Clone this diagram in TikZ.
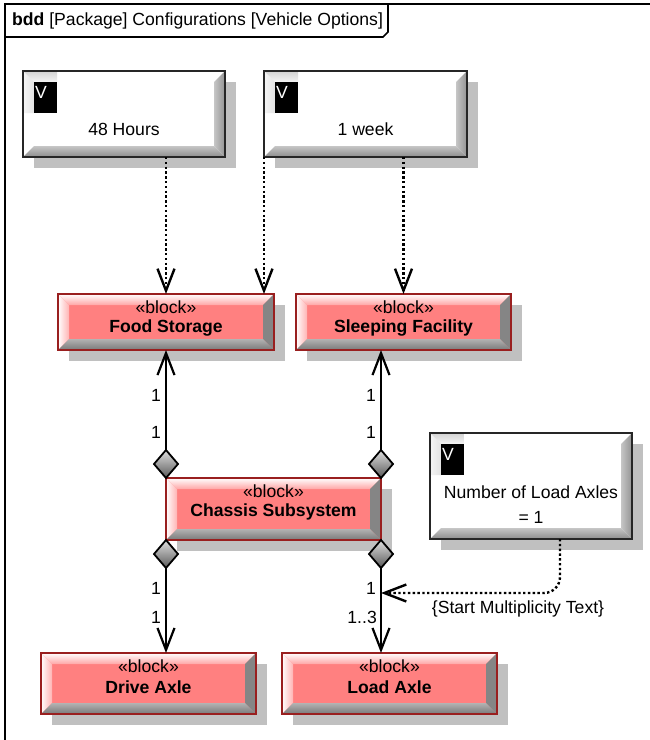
\documentclass[tikz,border=0pt]{standalone}
\usepackage{fontspec}
\setmainfont{Liberation Sans}
\usetikzlibrary{arrows.meta,calc,shapes.geometric}
\definecolor{blockfill}{HTML}{FF8080}
\definecolor{blockline}{HTML}{991F1F}
\definecolor{shadowc}{HTML}{C0C0C0}
\definecolor{bevdark}{HTML}{858585}

\tikzset{
  lbl/.style={font=\fontsize{17.6}{20}\selectfont, inner sep=0pt},
  blockframe/.style={draw=blockline, line width=1.2pt, inner sep=0pt, outer sep=0pt},
  valframe/.style={draw=black!85, line width=1.4pt, inner sep=0pt, outer sep=0pt},
  compd/.style={diamond, draw=black, line width=1.8pt, top color=gray!25, bottom color=gray!70!black,
    minimum width=24pt, minimum height=28pt, inner sep=0pt, outer sep=0pt},
  comp/.style={draw, line width=2.2pt, -{Straight Barb[length=22pt,width=17pt]}},
  dep/.style={draw, line width=2.4pt, dash pattern=on 2.4pt off 2.4pt, -{Straight Barb[length=22pt,width=17pt]}},
  framel/.style={draw=black, line width=1.6pt}
}

\newcommand{\umlblock}[6]{%
  \fill[shadowc] (#2+11,#3+11) rectangle (#4+11,#5+11);
  \fill[blockfill] (#2,#3) rectangle (#4,#5);
  \shade[top color=white, bottom color=blockfill!70!white] (#2,#3) -- (#4,#3) -- (#4-11,#3+11) -- (#2+11,#3+11) -- cycle;
  \shade[left color=white, right color=blockfill!60!white] (#2,#3) -- (#2+11,#3+11) -- (#2+11,#5-11) -- (#2,#5) -- cycle;
  \fill[bevdark] (#4,#3) -- (#4,#5) -- (#4-11,#5-11) -- (#4-11,#3+11) -- cycle;
  \shade[top color=gray!60, bottom color=gray!95!black] (#2,#5) -- (#4,#5) -- (#4-11,#5-11) -- (#2+11,#5-11) -- cycle;
  \node[blockframe, minimum width={(#4-#2)*1pt}, minimum height={(#5-#3)*1pt}] (#1) at ({(#2+#4)/2},{(#3+#5)/2}) {};
  \node[lbl] (#1-st) at ({(#2+#4)/2},#3+13) {«block»};
  \node[lbl, font=\fontsize{17.6}{20}\selectfont\bfseries] (#1-nm) at ({(#2+#4)/2},#3+34) {#6};
}

\newcommand{\valbox}[5]{%
  \fill[shadowc] (#2+11,#3+11) rectangle (#4+11,#5+11);
  \fill[white] (#2,#3) rectangle (#4,#5);
  \shade[left color=gray!45, right color=gray!85] (#4,#3) -- (#4,#5) -- (#4-11,#5-11) -- (#4-11,#3+11) -- cycle;
  \shade[top color=gray!45, bottom color=gray!90] (#2,#5) -- (#4,#5) -- (#4-11,#5-11) -- (#2+11,#5-11) -- cycle;
  \fill[gray!10] (#2,#3) rectangle (#2+34,#3+42);
  \shade[top color=gray!35, bottom color=gray!8] (#2,#3) -- (#2+34,#3) -- (#2+34,#3+11) -- (#2+11,#3+11) -- cycle;
  \shade[left color=gray!8, right color=gray!22] (#2,#3) -- (#2+11,#3+11) -- (#2+11,#3+42) -- (#2,#3+42) -- cycle;
  \fill[black] (#2+11,#3+11) rectangle (#2+34,#3+42);
  \node[lbl, text=white] (#1-v) at (#2+18,#3+21) {V};
  \node[valframe, minimum width={(#4-#2)*1pt}, minimum height={(#5-#3)*1pt}] (#1) at ({(#2+#4)/2},{(#3+#5)/2}) {};
}

\begin{document}
\begin{tikzpicture}[x=1pt,y=-1pt]
\useasboundingbox (0,0) rectangle (649,740);
\fill[white] (0,0) rectangle (649,740);

% frame
\draw[framel] (5,742) -- (5,4) -- (651,4);
\draw[framel] (5,37) -- (383,37) -- (388,32) -- (388,4);
\node[lbl, anchor=west] (hdr) at (12,21) {\textbf{bdd} [Package] Configurations [Vehicle Options]};

% value boxes
\valbox{v48}{23}{71}{225}{157}
\node[lbl] (v48-t) at (124,129) {48 Hours};
\valbox{wk}{264}{71}{467}{157}
\node[lbl] (wk-t) at (365.5,129) {1 week};
\valbox{nla}{430}{433}{632}{539}
\node[lbl] (nla-t1) at (531,492) {Number of Load Axles};
\node[lbl] (nla-t2) at (531,517) {= 1};

% blocks
\umlblock{fs}{58}{294}{274}{350}{Food Storage}
\umlblock{sf}{296}{294}{511}{350}{Sleeping Facility}
\umlblock{ch}{166}{478}{381}{540}{Chassis Subsystem}
\umlblock{da}{41}{653}{256}{714}{Drive Axle}
\umlblock{la}{282}{653}{497}{714}{Load Axle}

% dependencies
\draw[dep] (fs.north |- v48.south) -- (fs.north);
\draw[dep] (wk.south west) -- (wk.south west |- fs.north);
\draw[dep] (sf.north |- wk.south) -- (sf.north);

% compositions
\node[compd, anchor=south] (d1) at (ch.north west) {};
\node[compd, anchor=south] (d2) at (ch.north east) {};
\node[compd, anchor=north] (d3) at (ch.south west) {};
\node[compd, anchor=north] (d4) at (ch.south east) {};
\draw[comp] (d1.north) -- (d1.north |- fs.south);
\draw[comp] (d2.north) -- (d2.north |- sf.south);
\draw[comp] (d3.south) -- (d3.south |- da.north);
\draw[comp] (d4.south) -- (d4.south |- la.north);

% multiplicities
\node[lbl, anchor=east] (m1) at (161,395) {1};
\node[lbl, anchor=east] (m2) at (161,432) {1};
\node[lbl, anchor=east] (m3) at (376,395) {1};
\node[lbl, anchor=east] (m4) at (376,432) {1};
\node[lbl, anchor=east] (m5) at (161,588) {1};
\node[lbl, anchor=east] (m6) at (161,617) {1};
\node[lbl, anchor=east] (m7) at (376,588) {1};
\node[lbl, anchor=east] (m8) at (377,617) {1..3};

% constraint link
\coordinate (mt) at (d4.south |- 0,593);
\draw[dep, rounded corners=16pt] ($(nla.south)+(29,0)$) |- (mt);
\node[lbl] (smt) at (518,609) {\{Start Multiplicity Text\}};
\end{tikzpicture}
\end{document}
